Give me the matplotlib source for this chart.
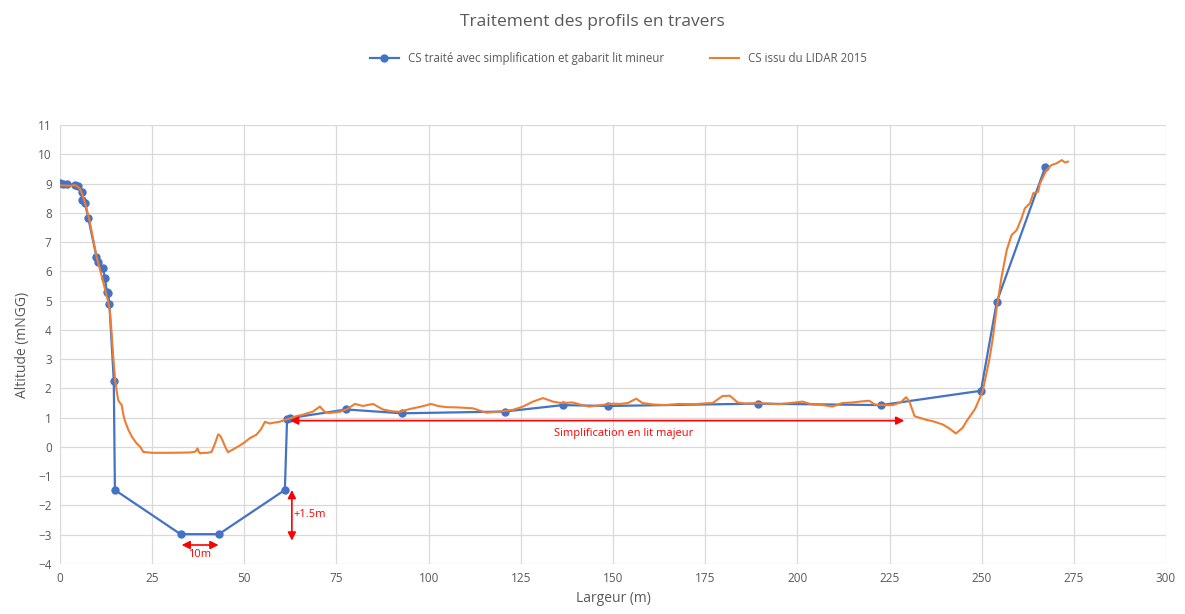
import matplotlib.pyplot as plt

plt.rcParams['font.family'] = ['Open Sans', 'DejaVu Sans']

# Profil traité (simplification + gabarit lit mineur)
cs_x = [0, 0.9, 1.8, 4.1, 5.0, 5.9, 5.9, 6.8, 7.7, 9.9, 10.4, 11.7, 12.2, 12.7, 13.1, 13.4,
        14.6, 14.9, 32.7, 43.1, 61.0, 61.6, 62.5, 77.7, 92.8, 120.6, 136.4, 148.6, 189.2,
        222.7, 249.8, 254.1, 267.2]
cs_y = [9.03, 8.97, 8.97, 8.95, 8.9, 8.72, 8.44, 8.33, 7.81, 6.5, 6.33, 6.1, 5.77, 5.3, 5.25, 4.88,
        2.27, -1.47, -2.98, -2.98, -1.47, 0.96, 0.99, 1.28, 1.15, 1.21, 1.43, 1.40, 1.48,
        1.43, 1.92, 4.96, 9.55]

# Profil LIDAR 2015
lidar_x = [0, 1, 2, 3, 4, 5, 5.5, 6, 6.5, 7, 7.5, 8, 9, 10, 11, 12, 12.5, 13, 13.5, 14, 14.5, 15,
           15.4, 15.8, 16.3, 16.7, 17.2, 17.6, 18.5, 19.5, 20.8, 21.8, 22.6, 25, 30, 35, 36.5, 37,
           37.3, 37.6, 38, 39, 40, 41.1, 42, 42.9, 43.5, 44.1, 45, 45.6, 47, 48.8, 50, 51.5, 53.3,
           54.5, 55.6, 56.9, 58, 59.2, 60.5, 61.4, 62.5, 64, 65.9, 67, 68.5, 70.5, 71.8, 73, 75.9,
           78, 80, 82.2, 84.9, 87.6, 90, 92.1, 95, 98, 100.7, 102.5, 104.8, 108, 112, 115.6, 119.2,
           122.9, 125.6, 128.3, 131, 133.7, 136, 139.1, 141, 143.6, 148.1, 150, 152, 154, 156.3,
           158, 161, 164.4, 168, 172, 175.2, 177, 179.7, 181.7, 183.8, 186, 189.2, 192, 195, 198,
           201.4, 204, 207, 209.5, 212.2, 215, 217, 219.5, 221, 222.7, 225.8, 228, 229.5, 230.4,
           231.8, 234.9, 237, 239.4, 241, 243, 244.8, 246, 247.1, 248.2, 248.9, 250.3, 251.6,
           252.2, 253, 254, 255.4, 256.8, 258.1, 259.5, 260.8, 261.7, 263.1, 264, 265.3, 265.8,
           267.6, 268.9, 270.3, 271.7, 272.6, 273.4]
lidar_y = [8.95, 8.93, 8.93, 8.92, 8.95, 8.88, 8.8, 8.65, 8.45, 8.25, 8.0, 7.75, 7.1, 6.45, 6.0,
           5.5, 5.25, 5.0, 4.7, 3.9, 3.0, 2.25, 1.9, 1.6, 1.5, 1.45, 1.1, 0.9, 0.6, 0.35, 0.12, 0.0,
           -0.17, -0.2, -0.2, -0.19, -0.17, -0.12, -0.05, -0.15, -0.22, -0.2, -0.2, -0.17, 0.1,
           0.43, 0.38, 0.22, -0.05, -0.18, -0.08, 0.05, 0.15, 0.3, 0.42, 0.6, 0.86, 0.8, 0.83,
           0.85, 0.9, 0.94, 0.98, 1.05, 1.1, 1.15, 1.2, 1.38, 1.2, 1.16, 1.2, 1.3, 1.47, 1.4, 1.47,
           1.28, 1.22, 1.2, 1.3, 1.38, 1.47, 1.4, 1.36, 1.35, 1.32, 1.17, 1.21, 1.27, 1.38, 1.55,
           1.67, 1.55, 1.5, 1.52, 1.45, 1.38, 1.45, 1.48, 1.47, 1.5, 1.65, 1.5, 1.45, 1.43, 1.47,
           1.46, 1.49, 1.5, 1.74, 1.75, 1.52, 1.48, 1.5, 1.48, 1.46, 1.5, 1.55, 1.45, 1.43, 1.38,
           1.5, 1.52, 1.55, 1.58, 1.45, 1.43, 1.43, 1.52, 1.7, 1.55, 1.05, 0.93, 0.87, 0.77, 0.65,
           0.46, 0.65, 0.9, 1.1, 1.3, 1.5, 1.92, 2.7, 3.08, 3.7, 4.68, 5.82, 6.73, 7.24, 7.41,
           7.81, 8.15, 8.33, 8.67, 8.72, 9.0, 9.46, 9.63, 9.69, 9.8, 9.72, 9.75]

blue = '#4472C4'
orange = '#ED7D31'
red = '#FF0000'
grey = '#595959'

fig = plt.figure(figsize=(11.85, 6.14), dpi=100)
ax = fig.add_axes([0.0506, 0.0814, 0.9334, 0.7150])

ax.plot(cs_x, cs_y, color=blue, lw=1.6, marker='o', ms=5,
        label='CS traité avec simplification et gabarit lit mineur', zorder=3)
ax.plot(lidar_x, lidar_y, color=orange, lw=1.5, label='CS issu du LIDAR 2015', zorder=4)

ax.set_xlim(0, 300)
ax.set_ylim(-4, 11)
ax.set_xticks(range(0, 301, 25))
ax.set_yticks(range(-4, 12))
ax.grid(True, color='#D9D9D9', lw=0.9)
ax.set_axisbelow(True)
for s in ['right', 'top', 'left', 'bottom']:
    ax.spines[s].set_visible(False)
ax.tick_params(axis='both', length=0, labelsize=8.5, colors=grey, pad=6)
ax.set_xlabel('Largeur (m)', fontsize=10, color=grey, labelpad=4)
ax.set_ylabel('Altitude (mNGG)', fontsize=10, color=grey, labelpad=6)

fig.suptitle('Traitement des profils en travers', y=0.978, fontsize=12.5, color=grey)
fig.legend(loc='center', bbox_to_anchor=(0.522, 0.905), ncol=2, frameon=False,
           fontsize=8.3, labelcolor=grey, columnspacing=4, handlelength=2.5)

# annotations
arr = dict(arrowstyle='<|-|>', color=red, lw=1.2, mutation_scale=12, shrinkA=0, shrinkB=0)
ax.annotate('', xy=(62.4, 0.9), xytext=(229, 0.9), arrowprops=arr, zorder=5)
ax.text(153, 0.45, 'Simplification en lit majeur', color=red, fontsize=8, ha='center', va='center')
ax.annotate('', xy=(33, -3.35), xytext=(43, -3.35), arrowprops=arr)
ax.text(38, -3.67, '10m', color=red, fontsize=8, ha='center', va='center')
ax.annotate('', xy=(62.9, -1.47), xytext=(62.9, -3.2), arrowprops=arr)
ax.text(63.3, -2.32, '+1.5m', color=red, fontsize=8, ha='left', va='center')

plt.savefig('out.png', dpi=100)
plt.close()
